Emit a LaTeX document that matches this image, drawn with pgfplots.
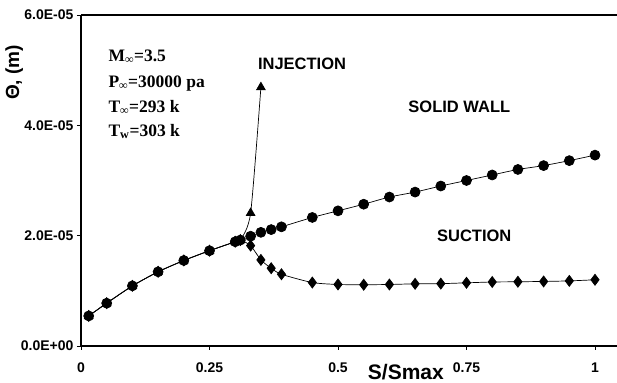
\documentclass[border=0pt]{standalone}
\usepackage{fontspec}
\setmainfont{Liberation Sans}
\newfontfamily\timesfont{Liberation Serif}
\usepackage{pgfplots}
\pgfplotsset{compat=1.18}

\pgfplotstableread{
x y
0.015 0.545
0.05 0.776
0.1 1.09
0.15 1.345
0.2 1.55
0.25 1.727
0.3 1.89
0.31 1.92
0.33 1.99
0.35 2.06
0.37 2.11
0.39 2.16
0.45 2.33
0.5 2.45
0.55 2.57
0.6 2.70
0.65 2.79
0.7 2.90
0.75 3.00
0.8 3.10
0.85 3.20
0.9 3.27
0.95 3.36
1.0 3.46
}\wall

\pgfplotstableread{
x y
0.015 0.545
0.05 0.776
0.1 1.09
0.15 1.345
0.2 1.55
0.25 1.727
0.3 1.89
0.31 1.92
0.33 1.82
0.35 1.56
0.37 1.41
0.39 1.30
0.45 1.15
0.5 1.115
0.55 1.11
0.6 1.115
0.65 1.127
0.7 1.13
0.75 1.145
0.8 1.16
0.85 1.164
0.9 1.17
0.95 1.18
1.0 1.20
}\suction

\pgfplotstableread{
x y
0.015 0.545
0.05 0.776
0.1 1.09
0.15 1.345
0.2 1.55
0.25 1.727
0.3 1.89
0.31 1.92
0.33 2.41
0.35 4.69
}\injection

\begin{document}
\begin{tikzpicture}
\begin{axis}[name=ax, width=536bp, height=331bp, scale only axis,
  xmin=0, xmax=1.0428, ymin=0, ymax=6,
  axis x line*=bottom, axis y line*=left,
  xtick={0,0.25,0.5,0.75,1}, xticklabels={0,0.25,0.5,0.75,1},
  ytick={0,2,4,6}, yticklabels={0.0E+00,2.0E-05,4.0E-05,6.0E-05},
  tick align=outside, major tick length=4bp,
  tick style={black, line width=0.8bp},
  axis line style={line width=1.3bp},
  ticklabel style={font=\fontsize{14bp}{16bp}\selectfont\bfseries},
  xticklabel style={yshift=-9bp},
  clip=false,
]
\draw[line width=1.3bp] (rel axis cs:0,1) -- (rel axis cs:1,1);
\addplot[black, line width=0.7bp, smooth, tension=0.4, mark=triangle*, mark size=5bp, mark options={solid}] table[x=x,y=y] {\injection};
\addplot[black, line width=0.7bp, smooth, tension=0.4, mark=diamond*, mark size=5.5bp] table[x=x,y=y] {\suction};
\addplot[black, line width=0.7bp, smooth, tension=0.4, mark=*, mark size=5bp] table[x=x,y=y] {\wall};

\node[font=\fontsize{16.5bp}{18bp}\selectfont\bfseries] at (axis cs:0.43,5.12) {INJECTION};
\node[font=\fontsize{16.5bp}{18bp}\selectfont\bfseries] at (axis cs:0.736,4.33) {SOLID WALL};
\node[font=\fontsize{16.5bp}{18bp}\selectfont\bfseries] at (axis cs:0.765,2.0) {SUCTION};

\node[anchor=base west, font=\timesfont\fontsize{17.5bp}{20bp}\selectfont\bfseries] at (axis cs:0.0467,5.16) {M\textsubscript{\large ∞}=3.5};
\node[anchor=base west, font=\timesfont\fontsize{17.5bp}{20bp}\selectfont\bfseries] at (axis cs:0.0467,4.69) {P\textsubscript{\large ∞}=30000 pa};
\node[anchor=base west, font=\timesfont\fontsize{17.5bp}{20bp}\selectfont\bfseries] at (axis cs:0.0467,4.24) {T\textsubscript{\large ∞}=293 k};
\node[anchor=base west, font=\timesfont\fontsize{17.5bp}{20bp}\selectfont\bfseries] at (axis cs:0.0467,3.80) {T\textsubscript{w}=303 k};

\node[rotate=90, font=\fontsize{19bp}{22bp}\selectfont\bfseries] at (axis cs:-0.130,4.96) {Θ, (m)};
\node[anchor=base, font=\fontsize{21bp}{24bp}\selectfont\bfseries] at (axis cs:0.632,-0.6) {S/Smax};
\end{axis}
\pgfresetboundingbox
\path[use as bounding box] ([shift={(-81bp,-37bp)}]ax.south west) rectangle ([shift={(0bp,15bp)}]ax.north east);
\end{tikzpicture}
\end{document}
